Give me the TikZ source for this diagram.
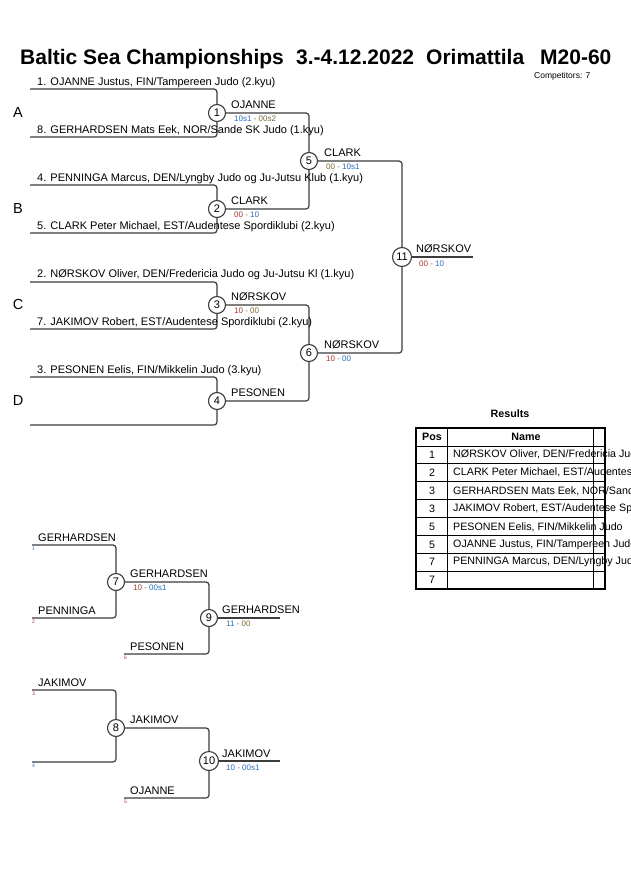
\documentclass[tikz,border=0pt]{standalone}
\usepackage{fontspec}
\setmainfont{Liberation Sans}
\definecolor{linec}{RGB}{60,60,60}
\definecolor{sb}{RGB}{40,110,185}
\definecolor{sr}{RGB}{165,55,45}
\definecolor{so}{RGB}{125,105,50}
\definecolor{sg}{RGB}{110,110,110}
\newcommand{\scr}[4]{\textcolor{#1}{#2}\ \textcolor{sg}{-}\ \textcolor{#3}{#4}}
\begin{document}
\begin{tikzpicture}[x=1pt,y=-1pt,
  br/.style={draw=linec, line width=1.2pt, rounded corners=3pt},
  circ/.style={circle, draw=linec, line width=1.1pt, fill=white, minimum size=17pt, inner sep=0pt, font=\fontsize{11}{11}\selectfont},
  circw/.style={circ, minimum size=19pt},
  nm/.style={anchor=base west, inner sep=0pt, font=\fontsize{11}{13}\selectfont},
  sc/.style={anchor=west, inner sep=0pt, font=\fontsize{8}{9}\selectfont},
  lt/.style={anchor=center, inner sep=0pt, font=\fontsize{14.5}{16}\selectfont},
  ttl/.style={anchor=base west, inner sep=0pt, font=\fontsize{21}{24}\selectfont\bfseries},
  idx/.style={anchor=north west, inner sep=0pt, font=\fontsize{5}{5}\selectfont},
  tb/.style={anchor=center, inner sep=0pt, font=\fontsize{10.7}{12}\selectfont},
  tbb/.style={anchor=center, inner sep=0pt, font=\fontsize{10.7}{12}\selectfont\bfseries},
  tn/.style={anchor=west, inner sep=0pt, font=\fontsize{10.7}{12}\selectfont},
  thin/.style={draw=black, line width=0.8pt},
  thick/.style={draw=black, line width=1.6pt}]
\useasboundingbox[fill=white] (0,0) rectangle (630,891);
\begin{scope}
\clip (0,0) rectangle (630,891);
% title
\node[ttl] (t1) at (20,65) {Baltic Sea Championships};
\node[ttl] (t2) at (296,65) {3.-4.12.2022};
\node[ttl] (t3) at (426,65) {Orimattila};
\node[ttl] (t4) at (540,65) {M20-60};
\node[anchor=base west, inner sep=0pt, font=\fontsize{8.5}{10}\selectfont] (comp) at (534,78) {Competitors: 7};
% pool letters
\node[lt] (LA) at (18,113) {A};
\node[lt] (LB) at (18,209) {B};
\node[lt] (LC) at (18,305) {C};
\node[lt] (LD) at (18,401) {D};
% circles
\node[circ] (c1) at (217,113) {1};
\node[circ] (c2) at (217,209) {2};
\node[circ] (c3) at (217,305) {3};
\node[circ] (c4) at (217,401) {4};
\node[circ] (c5) at (309,161) {5};
\node[circ] (c6) at (309,353) {6};
\node[circw] (c11) at (402,257) {11};
\node[circ] (c7) at (116,582) {7};
\node[circ] (c8) at (116,728) {8};
\node[circ] (c9) at (209,618) {9};
\node[circw] (c10) at (209,761) {10};
% line starts
\coordinate (p1) at (30,89);
\coordinate (p8) at (30,137);
\coordinate (p4) at (30,185);
\coordinate (p5) at (30,233);
\coordinate (p2) at (30,282);
\coordinate (p7) at (30,329);
\coordinate (p3) at (30,377);
\coordinate (pD) at (30,425);
\coordinate (e11) at (473,257);
\coordinate (r1) at (32,545);
\coordinate (r2) at (32,618);
\coordinate (r6) at (124,654);
\coordinate (e9) at (280,618);
\coordinate (r3) at (32,690);
\coordinate (r4) at (32,762);
\coordinate (r5) at (124,798);
\coordinate (e10) at (280,761);
% bracket lines
\draw[br] (p1) -| (c1);
\draw[br] (p8) -| (c1);
\draw[br] (p4) -| (c2);
\draw[br] (p5) -| (c2);
\draw[br] (p2) -| (c3);
\draw[br] (p7) -| (c3);
\draw[br] (p3) -| (c4);
\draw[br] (pD) -| (c4);
\draw[br] (c1) -| (c5);
\draw[br] (c2) -| (c5);
\draw[br] (c3) -| (c6);
\draw[br] (c4) -| (c6);
\draw[br] (c5) -| (c11);
\draw[br] (c6) -| (c11);
\draw[br] (c11) -- (e11);
\draw[br] (r1) -| (c7);
\draw[br] (r2) -| (c7);
\draw[br] (c7) -| (c9);
\draw[br] (r6) -| (c9);
\draw[br] (c9) -- (e9);
\draw[br] (r3) -| (c8);
\draw[br] (r4) -| (c8);
\draw[br] (c8) -| (c10);
\draw[br] (r5) -| (c10);
\draw[br] (c10) -- (e10);
% competitor names
\node[nm] (n1) at (37,85) {1. OJANNE Justus, FIN/Tampereen Judo (2.kyu)};
\node[nm] (n8) at (37,133) {8. GERHARDSEN Mats Eek, NOR/Sande SK Judo (1.kyu)};
\node[nm] (n4) at (37,181) {4. PENNINGA Marcus, DEN/Lyngby Judo og Ju-Jutsu Klub (1.kyu)};
\node[nm] (n5) at (37,229) {5. CLARK Peter Michael, EST/Audentese Spordiklubi (2.kyu)};
\node[nm] (n2) at (37,277) {2. NØRSKOV Oliver, DEN/Fredericia Judo og Ju-Jutsu Kl (1.kyu)};
\node[nm] (n7) at (37,325) {7. JAKIMOV Robert, EST/Audentese Spordiklubi (2.kyu)};
\node[nm] (n3) at (37,373) {3. PESONEN Eelis, FIN/Mikkelin Judo (3.kyu)};
% winners and scores
\node[nm] (w1) at (231,108) {OJANNE};
\node[sc] (s1) at (234,119) {\scr{sb}{10s1}{so}{00s2}};
\node[nm] (w2) at (231,204) {CLARK};
\node[sc] (s2) at (234,215) {\scr{sr}{00}{sb}{10}};
\node[nm] (w3) at (231,300) {NØRSKOV};
\node[sc] (s3) at (234,311) {\scr{sr}{10}{so}{00}};
\node[nm] (w4) at (231,396) {PESONEN};
\node[nm] (w5) at (324,156) {CLARK};
\node[sc] (s5) at (326,167) {\scr{so}{00}{sb}{10s1}};
\node[nm] (w6) at (324,348) {NØRSKOV};
\node[sc] (s6) at (326,359) {\scr{sr}{10}{sb}{00}};
\node[nm] (w11) at (416,252) {NØRSKOV};
\node[sc] (s11) at (419,264) {\scr{sr}{00}{sb}{10}};
% repechage
\node[nm] (q1) at (38,541) {GERHARDSEN};
\node[idx,text=sb] (i1) at (32,547) {1};
\node[nm] (q2) at (38,614) {PENNINGA};
\node[idx,text=sr] (i2) at (32,620) {2};
\node[nm] (q7) at (130,577) {GERHARDSEN};
\node[sc] (s7) at (133,588) {\scr{sr}{10}{sb}{00s1}};
\node[nm] (q6) at (130,650) {PESONEN};
\node[idx,text=sr] (i6) at (124,656) {6};
\node[nm] (q9) at (222,613) {GERHARDSEN};
\node[sc] (s9) at (226,624) {\scr{sb}{11}{so}{00}};
\node[nm] (q3) at (38,686) {JAKIMOV};
\node[idx,text=sr] (i3) at (32,692) {3};
\node[idx,text=sb] (i4) at (32,764) {4};
\node[nm] (q8) at (130,723) {JAKIMOV};
\node[nm] (q5) at (130,794) {OJANNE};
\node[idx,text=sr] (i5) at (124,800) {5};
\node[nm] (q10) at (222,757) {JAKIMOV};
\node[sc] (s10) at (226,768) {\scr{sb}{10}{sb}{00s1}};
% results table
\node[tbb] (res) at (510,414) {Results};
\foreach \k in {1,...,7} {\draw[thin] (416,{446+17.875*\k}) -- (605,{446+17.875*\k});}
\draw[thin] (416,446) -- (605,446);
\draw[thin] (447,428) -- (447,589);
\node[tbb] (hp) at (432,437) {Pos};
\node[tbb] (hn) at (526,437) {Name};
\node[tb] (pp1) at (432,455) {1};
\node[tn] (nn1) at (453,455) {NØRSKOV Oliver, DEN/Fredericia Judo og Ju-Jutsu Kl};
\node[tb] (pp2) at (432,473) {2};
\node[tn] (nn2) at (453,473) {CLARK Peter Michael, EST/Audentese Spordiklubi};
\node[tb] (pp3) at (432,491) {3};
\node[tn] (nn3) at (453,491) {GERHARDSEN Mats Eek, NOR/Sande SK Judo};
\node[tb] (pp4) at (432,509) {3};
\node[tn] (nn4) at (453,509) {JAKIMOV Robert, EST/Audentese Spordiklubi};
\node[tb] (pp5) at (432,527) {5};
\node[tn] (nn5) at (453,527) {PESONEN Eelis, FIN/Mikkelin Judo};
\node[tb] (pp6) at (432,545) {5};
\node[tn] (nn6) at (453,545) {OJANNE Justus, FIN/Tampereen Judo};
\node[tb] (pp7) at (432,562) {7};
\node[tn] (nn7) at (453,562) {PENNINGA Marcus, DEN/Lyngby Judo og Ju-Jutsu Klub};
\node[tb] (pp8) at (432,580) {7};
\draw[thin] (593,428) -- (593,589);
\draw[thick] (416,428) rectangle (605,589);
\end{scope}
\end{tikzpicture}
\end{document}
